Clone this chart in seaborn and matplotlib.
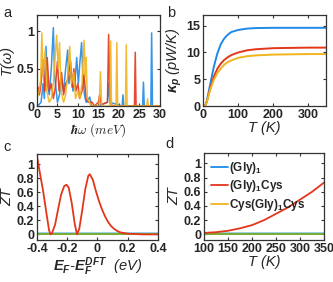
import numpy as np
import pandas as pd
import matplotlib
matplotlib.use('Agg')
import matplotlib.pyplot as plt
import seaborn as sns
from matplotlib.ticker import FuncFormatter

# ---- data ----
names = ['(Gly)$_1$', '(Gly)$_1$Cys', 'Cys(Gly)$_1$Cys']
colors = ['#1f8ae6', '#e3361b', '#f0b41e']

# panel a: phonon transmission T(w)
e_gly = [0, 0.5, 1.0, 1.5, 1.8, 2.2, 2.5, 3.0, 3.5, 4.0, 4.3, 4.7, 5.0, 5.5, 6.0, 6.5, 7.0, 7.5, 7.8,
         8.3, 8.8, 9.3, 9.7, 10.1, 10.5, 10.9, 11.2, 11.6, 12.0, 12.9, 13.3, 15.0, 17.2, 17.5, 17.8,
         20.8, 21.0, 21.2, 25.8, 26.0, 26.2, 27.8, 28.0, 28.2, 30]
t_gly = [0, 0.02, 0.05, 0.3, 0.1, 0.8, 0.3, 0.15, 0.5, 1.05, 0.4, 0.2, 0.05, 0.15, 0.35, 0.2, 0.5, 0.75, 0.3,
         0.45, 0.2, 0.35, 0.65, 0.3, 0.6, 0.85, 0.4, 0.15, 0.05, 0.12, 0.0, 0.0, 0.05, 0.3, 0.05,
         0, 0.15, 0, 0, 0.32, 0, 0, 0.98, 0, 0]
e_cys = [0, 0.3, 0.6, 1.0, 1.5, 1.9, 2.5, 3.0, 3.5, 4.0, 4.5, 5.0, 5.4, 6.0, 6.5, 7.0, 7.5, 8.2, 8.6,
         9.0, 9.5, 10.0, 10.4, 11.0, 11.5, 12.0, 12.5, 13.5, 14.0, 15.0, 15.3, 15.7, 17.2, 17.5, 17.8,
         18.5, 23.8, 24.0, 24.2, 30]
t_cys = [0.2, 0.25, 0.15, 0.3, 0.62, 0.2, 0.65, 0.2, 0.3, 0.1, 0.25, 0.6, 0.2, 0.45, 0.15, 0.3, 0.35, 0.6, 0.25,
         0.5, 0.2, 0.3, 0.1, 0.2, 0.42, 0.1, 0.05, 0.05, 0.0, 0.05, 0.15, 0.02, 0.05, 0.96, 0.05,
         0, 0, 0.72, 0, 0]
e_cc = [0, 0.5, 0.9, 1.2, 1.5, 2.0, 2.4, 3.0, 3.5, 4.0, 4.8, 5.2, 5.5, 5.9, 6.5, 7.0, 7.5, 8.0, 8.4,
        9.0, 9.4, 10.0, 10.5, 11.0, 11.5, 11.8, 12.0, 12.3, 12.8, 13.2, 15.2, 15.5, 15.8, 17.8, 18.0,
        18.2, 19.3, 19.5, 19.7, 21.6, 21.8, 22.0, 26.8, 27.0, 27.2, 30]
t_cc = [0.1, 0.2, 0.35, 0.98, 0.4, 0.75, 0.2, 0.05, 0.1, 0.3, 0.95, 0.5, 0.85, 0.2, 0.05, 0.15, 0.4, 0.8, 0.3,
        0.45, 0.1, 0.2, 0.1, 0.3, 0.88, 0.4, 0.65, 0.1, 0.05, 0.0, 0, 0.46, 0, 0, 0.87,
        0, 0, 0.85, 0, 0, 0.82, 0, 0, 0.1, 0, 0]

# panel b: phonon thermal conductance
temp_b = [0, 5, 10, 20, 30, 40, 50, 60, 70, 80, 100, 125, 150, 200, 250, 300, 350]
kp_gly = [0, 0, 0.8, 4.0, 7.2, 9.7, 11.5, 12.6, 13.3, 13.8, 14.2, 14.45, 14.55, 14.6, 14.6, 14.6, 14.6]
kp_cys = [0, 0, 0.7, 3.2, 5.4, 6.9, 7.9, 8.6, 9.1, 9.5, 10.0, 10.4, 10.6, 10.8, 10.85, 10.9, 10.9]
kp_cc = [0, 0, 0.7, 3.0, 4.8, 6.1, 7.0, 7.7, 8.2, 8.5, 9.0, 9.3, 9.45, 9.6, 9.65, 9.7, 9.7]

# panel c: ZT vs Fermi energy
ef = [-0.4, -0.38, -0.36, -0.34, -0.32, -0.31, -0.3, -0.28, -0.26, -0.24, -0.22, -0.205, -0.19, -0.17,
      -0.15, -0.135, -0.12, -0.1, -0.08, -0.06, -0.05, -0.03, -0.01, 0.01, 0.03, 0.05, 0.07, 0.09,
      0.11, 0.13, 0.15, 0.2, 0.3, 0.4]
zt_ef_cys = [1.12, 0.87, 0.63, 0.34, 0.06, 0.0, 0.02, 0.14, 0.36, 0.57, 0.69, 0.71, 0.67, 0.45,
             0.15, 0.0, 0.08, 0.35, 0.65, 0.84, 0.86, 0.78, 0.62, 0.48, 0.36, 0.26, 0.18, 0.12,
             0.08, 0.05, 0.03, 0.01, 0.0, 0.0]
zt_ef_gly = [0.015] * len(ef)
zt_ef_cc = [0.0] * len(ef)

# panel d: ZT vs temperature
temp_d = [100, 125, 150, 175, 200, 225, 250, 275, 300, 325, 350]
zt_t_cys = [0.02, 0.03, 0.05, 0.085, 0.13, 0.2, 0.29, 0.38, 0.49, 0.6, 0.73]
zt_t_gly = [0.015] * len(temp_d)
zt_t_cc = [0.0] * len(temp_d)

# ---- style ----
sns.set_theme(style='ticks')
plt.rcParams['font.family'] = ['Liberation Sans', 'DejaVu Sans']
plt.rcParams['font.weight'] = 'bold'
plt.rcParams['mathtext.fontset'] = 'custom'
plt.rcParams['mathtext.rm'] = 'Liberation Sans:bold'
plt.rcParams['mathtext.bf'] = 'Liberation Sans:bold'
plt.rcParams['mathtext.it'] = 'Liberation Sans:bold:italic'
plt.rcParams['axes.edgecolor'] = '#333333'
plt.rcParams['axes.linewidth'] = 0.9

fig = plt.figure(figsize=(3.33, 2.82), dpi=100)
ax_a = fig.add_axes([0.111, 0.624, 0.369, 0.323])
ax_b = fig.add_axes([0.610, 0.624, 0.369, 0.323])
ax_c = fig.add_axes([0.111, 0.149, 0.363, 0.305])
ax_d = fig.add_axes([0.613, 0.149, 0.360, 0.309])

fmt = FuncFormatter(lambda v, p: f'{v:g}')
lab_fs = 10.5

# panel a
for e, t, c in zip([e_gly, e_cys, e_cc], [t_gly, t_cys, t_cc], colors):
    df = pd.DataFrame({'E': e, 'T': t})
    sns.lineplot(data=df, x='E', y='T', ax=ax_a, color=c, lw=1.1, sort=False, estimator=None, alpha=0.9)
ax_a.set_xlim(0, 30)
ax_a.set_ylim(0, 1.22)
ax_a.set_xticks([0, 5, 10, 15, 20, 25, 30])
ax_a.set_yticks([0, 0.5, 1])
ax_a.set_ylabel('T(ω)', style='italic', fontsize=lab_fs, labelpad=2)
ax_a.set_xlabel(r'$\hbar\omega\ (meV)$', fontsize=9.5, math_fontfamily='cm', labelpad=0)

# panel b
for k, c in zip([kp_gly, kp_cys, kp_cc], colors):
    df = pd.DataFrame({'T': temp_b, 'k': k})
    sns.lineplot(data=df, x='T', y='k', ax=ax_b, color=c, lw=1.4)
ax_b.set_xlim(0, 350)
ax_b.set_ylim(0, 17)
ax_b.set_xticks([0, 100, 200, 300])
ax_b.set_yticks([0, 5, 10, 15])
ax_b.set_ylabel(r'$\kappa_p$ (pW/K)', style='italic', fontsize=lab_fs, labelpad=2)
ax_b.set_xlabel('T (K)', style='italic', fontsize=lab_fs, labelpad=0)

# panel c
sns.lineplot(x=ef, y=zt_ef_gly, ax=ax_c, color='#8cc6ee', lw=1.2)
sns.lineplot(x=ef, y=zt_ef_cc, ax=ax_c, color='#77ac30', lw=1.4)
sns.lineplot(x=ef, y=zt_ef_cys, ax=ax_c, color=colors[1], lw=1.3)
ax_c.set_xlim(-0.4, 0.4)
ax_c.set_ylim(-0.08, 1.15)
ax_c.set_xticks([-0.4, -0.2, 0, 0.2, 0.4])
ax_c.set_yticks([0, 0.2, 0.4, 0.6, 0.8, 1])
ax_c.set_ylabel('ZT', style='italic', fontsize=lab_fs, labelpad=2)
ax_c.set_xlabel(r'$E_F$-$E_F^{DFT}$  (eV)', style='italic', fontsize=lab_fs, labelpad=0.5)

# panel d
sns.lineplot(x=temp_d, y=zt_t_gly, ax=ax_d, color='#8cc6ee', lw=1.2)
sns.lineplot(x=temp_d, y=zt_t_cc, ax=ax_d, color='#77ac30', lw=1.4)
sns.lineplot(x=temp_d, y=zt_t_cys, ax=ax_d, color=colors[1], lw=1.3)
ax_d.set_xlim(100, 350)
ax_d.set_ylim(-0.08, 1.15)
ax_d.set_xticks([100, 150, 200, 250, 300, 350])
ax_d.set_yticks([0, 0.2, 0.4, 0.6, 0.8, 1])
ax_d.set_ylabel('ZT', style='italic', fontsize=lab_fs, labelpad=2)
ax_d.set_xlabel('T (K)', style='italic', fontsize=lab_fs, labelpad=0)
handles = [plt.Line2D([], [], color=c, lw=1.3) for c in colors]
ax_d.legend(handles, names, loc='upper left', frameon=False, fontsize=8.5, handlelength=1.4,
            handletextpad=0.1, labelspacing=0.2, borderaxespad=0.3, borderpad=0.3)

for ax in [ax_a, ax_b, ax_c, ax_d]:
    ax.tick_params(direction='in', top=True, right=True, length=2.5, width=0.8,
                   labelsize=9, pad=2, color='#333333')
    ax.xaxis.set_major_formatter(fmt)
    ax.yaxis.set_major_formatter(fmt)
    for lab in ax.get_xticklabels() + ax.get_yticklabels():
        lab.set_fontweight('bold')

for txt, x, y in [('a', 0.01, 0.955), ('b', 0.502, 0.955), ('c', 0.01, 0.48), ('d', 0.497, 0.49)]:
    fig.text(x, y, txt, fontsize=10.5, fontweight='normal', va='center')

fig.savefig('out.png', dpi=100)
